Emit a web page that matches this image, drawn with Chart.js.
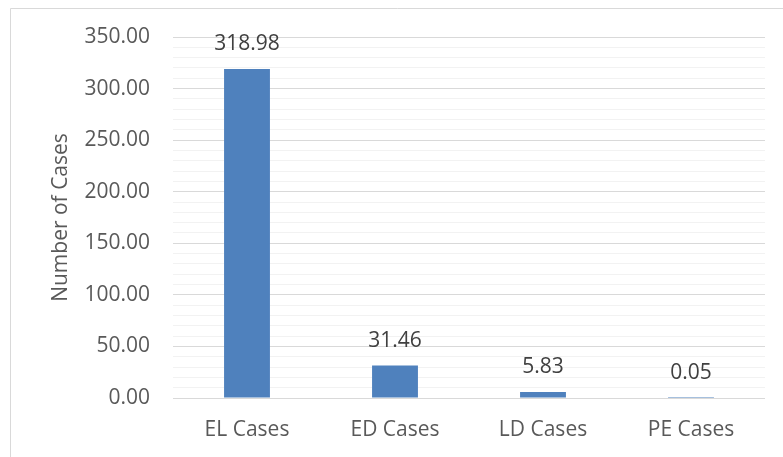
<!DOCTYPE html>
<html>
<head>
<meta charset="utf-8">
<script src="https://cdn.jsdelivr.net/npm/chart.js@4/dist/chart.umd.min.js"></script>
<style>
  html, body { margin: 0; padding: 0; background: #ffffff; }
  #wrap { position: relative; width: 783px; height: 457px; }
</style>
</head>
<body>
<div id="wrap"><canvas id="chart" width="783" height="457"></canvas></div>
<script>
const categories = ['EL Cases', 'ED Cases', 'LD Cases', 'PE Cases'];
const cases = [318.98, 31.46, 5.83, 0.05];
const axisTitle = 'Number of Cases';
const yMin = 0;
const yMax = 350;
const majorStep = 50;
const minorStep = 10;

const FONT = "'Open Sans', 'Liberation Sans', sans-serif";
const BAR_BLUE = '#4f81bd';

// Light frame around the chart, white background
const framePlugin = {
  id: 'frame',
  beforeDraw(chart) {
    const ctx = chart.ctx;
    ctx.save();
    ctx.fillStyle = '#ffffff';
    ctx.fillRect(0, 0, chart.width, chart.height);
    ctx.strokeStyle = '#d9d9d9';
    ctx.lineWidth = 1;
    ctx.beginPath();
    ctx.moveTo(10.5, chart.height + 2);
    ctx.lineTo(10.5, 8.5);
    ctx.lineTo(chart.width + 2, 8.5);
    ctx.stroke();
    ctx.restore();
  }
};

// Value labels above each bar
const valueLabels = {
  id: 'valueLabels',
  afterDatasetsDraw(chart) {
    const ctx = chart.ctx;
    const meta = chart.getDatasetMeta(0);
    const data = chart.data.datasets[0].data;
    ctx.save();
    ctx.font = '21px ' + FONT;
    ctx.fillStyle = '#404040';
    ctx.textAlign = 'center';
    ctx.textBaseline = 'middle';
    meta.data.forEach((bar, i) => {
      ctx.fillText(data[i].toFixed(2), bar.x, bar.y - 25);
    });
    ctx.restore();
  }
};

new Chart(document.getElementById('chart'), {
  type: 'bar',
  data: {
    labels: categories,
    datasets: [{
      data: cases,
      backgroundColor: BAR_BLUE,
      borderWidth: 0,
      barPercentage: 0.31,
      categoryPercentage: 1.0
    }]
  },
  options: {
    responsive: false,
    animation: false,
    devicePixelRatio: 1,
    layout: { padding: { top: 37, right: 18, bottom: 0, left: 0 } },
    plugins: {
      legend: { display: false },
      tooltip: { enabled: false }
    },
    scales: {
      x: {
        grid: { display: false, drawTicks: false },
        border: { display: false },
        ticks: {
          color: '#595959',
          font: { family: FONT, size: 21 },
          padding: 19,
          maxRotation: 0
        },
        afterFit(scale) { scale.height = 59; }
      },
      y: {
        min: yMin,
        max: yMax,
        border: { display: false },
        grid: {
          drawTicks: false,
          lineWidth: 1,
          color: (c) => (c.tick && c.tick.value % majorStep === 0) ? '#d9d9d9' : '#f2f2f2'
        },
        ticks: {
          stepSize: minorStep,
          autoSkip: false,
          color: '#595959',
          font: { family: FONT, size: 21 },
          padding: 23,
          callback: (v) => (v % majorStep === 0) ? Number(v).toFixed(2) : ''
        },
        title: {
          display: true,
          text: axisTitle,
          color: '#595959',
          font: { family: FONT, size: 21 },
          padding: { top: 48, bottom: 0 }
        },
        afterFit(scale) { scale.width = 173; }
      }
    }
  },
  plugins: [framePlugin, valueLabels]
});
</script>
</body>
</html>
